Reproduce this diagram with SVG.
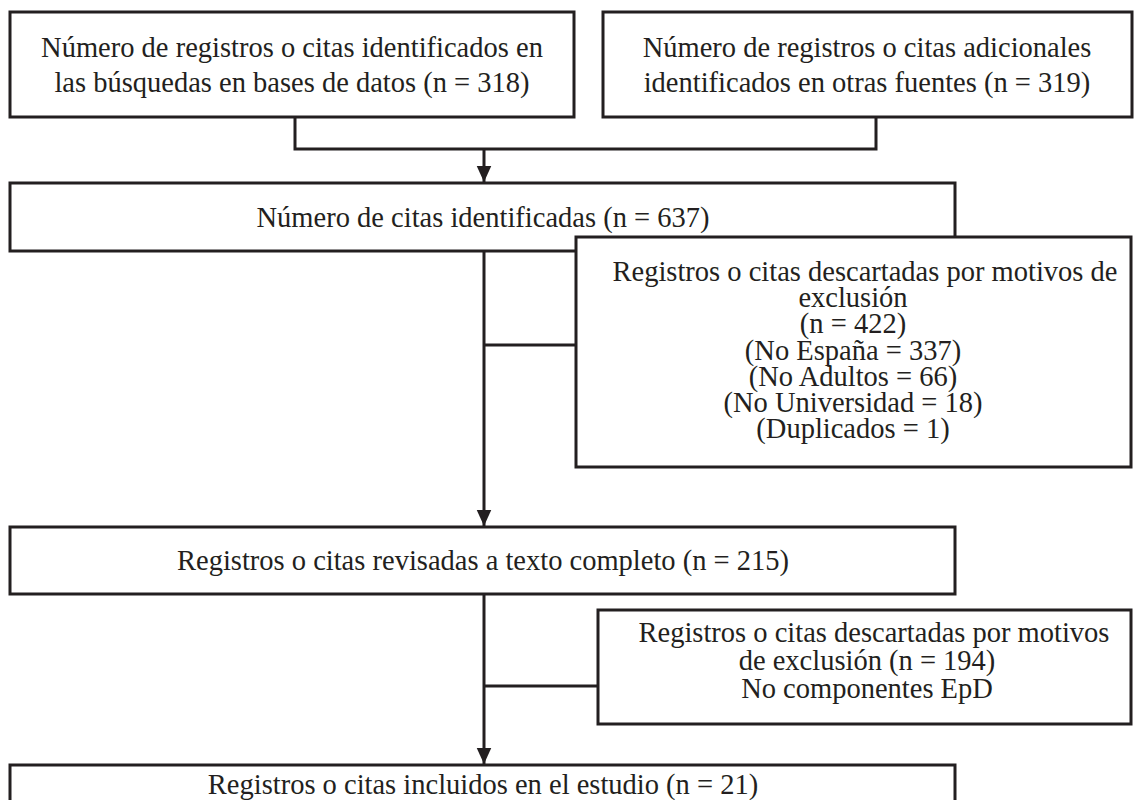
<svg xmlns="http://www.w3.org/2000/svg" width="1141" height="800" viewBox="0 0 1141 800">
<defs>
<marker id="arr" markerWidth="6" markerHeight="6" refX="5.5" refY="2.5" orient="auto" markerUnits="strokeWidth">
<path d="M0,0 L5.5,2.5 L0,5 Z" fill="#231f20"/>
</marker>
<style>
.box{fill:#fff;stroke:#231f20;stroke-width:3}
.t{font-family:"Liberation Serif","Times New Roman",serif;font-size:28.5px;fill:#231f20;text-anchor:middle}
.c{fill:none;stroke:#231f20;stroke-width:3}
</style>
</defs>
<rect width="1141" height="800" fill="#fff"/>
<g id="connectors">
<path class="c" d="M295,117 V149 H876 V117"/>
<path class="c" d="M484,149 V182" marker-end="url(#arr)"/>
<path class="c" d="M484,251 V526" marker-end="url(#arr)"/>
<path class="c" d="M484,345 H576"/>
<path class="c" d="M484,594 V764" marker-end="url(#arr)"/>
<path class="c" d="M484,686 H598"/>
</g>
<g id="n1"><rect class="box" x="10" y="12" width="564" height="105"/>
<text class="t" x="292" y="57">Número de registros o citas identificados en</text>
<text class="t" x="292" y="92">las búsquedas en bases de datos (n = 318)</text></g>
<g id="n2"><rect class="box" x="603" y="12" width="529" height="105"/>
<text class="t" x="867" y="57">Número de registros o citas adicionales</text>
<text class="t" x="867" y="92">identificados en otras fuentes (n = 319)</text></g>
<g id="n3"><rect class="box" x="10" y="183" width="945" height="68"/>
<text class="t" x="483" y="227">Número de citas identificadas (n = 637)</text></g>
<g id="n4"><rect class="box" x="576" y="237" width="555" height="230"/>
<text class="t" x="865" y="281">Registros o citas descartadas por motivos de</text>
<text class="t" x="853" y="307">exclusión</text>
<text class="t" x="853" y="333">(n = 422)</text>
<text class="t" x="853" y="360">(No España = 337)</text>
<text class="t" x="853" y="386">(No Adultos = 66)</text>
<text class="t" x="853" y="412">(No Universidad = 18)</text>
<text class="t" x="853" y="438">(Duplicados = 1)</text></g>
<g id="n5"><rect class="box" x="10" y="527" width="945" height="67"/>
<text class="t" x="483" y="570">Registros o citas revisadas a texto completo (n = 215)</text></g>
<g id="n6"><rect class="box" x="598" y="610" width="533" height="114"/>
<text class="t" x="874" y="642">Registros o citas descartadas por motivos</text>
<text class="t" x="867" y="670">de exclusión (n = 194)</text>
<text class="t" x="867" y="698">No componentes EpD</text></g>
<g id="n7"><rect class="box" x="10" y="765" width="945" height="60"/>
<text class="t" x="483" y="794">Registros o citas incluidos en el estudio (n = 21)</text></g>
</svg>
